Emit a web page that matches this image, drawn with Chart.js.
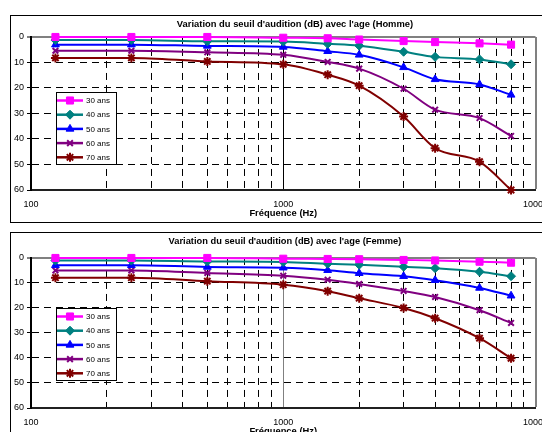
<!DOCTYPE html>
<html>
<head>
<meta charset="utf-8">
<script src="https://cdn.jsdelivr.net/npm/chart.js@4.4.1/dist/chart.umd.min.js"></script>
<style>
html, body { margin: 0; padding: 0; background: #fff; }
body { width: 542px; height: 432px; overflow: hidden; position: relative; }
.frame { position: absolute; left: 10px; width: 620px; border: 1px solid #000; box-sizing: border-box; }
#f1 { top: 15px; height: 208px; }
#f2 { top: 232px; height: 260px; }
.wrap { position: absolute; left: 0; width: 542px; }
#w1 { top: 0; height: 222px; }
#w2 { top: 221px; height: 219px; }
canvas { display: block; }
</style>
</head>
<body>
<div class="frame" id="f1"></div>
<div class="frame" id="f2"></div>
<div class="wrap" id="w1"><canvas id="chartHomme" width="542" height="222"></canvas></div>
<div class="wrap" id="w2"><canvas id="chartFemme" width="542" height="219"></canvas></div>
<script>
// frequencies (Hz) of the measured points
const frequencies = [125, 250, 500, 1000, 1500, 2000, 3000, 4000, 6000, 8000];
const ageLabels = ['30 ans', '40 ans', '50 ans', '60 ans', '70 ans'];

// hearing threshold loss (dB), men
const homme30 = [0, 0, 0, 0.3, 0.5, 1, 1.6, 2, 2.5, 3];
const homme40 = [1.2, 1.2, 1.7, 1.8, 2.7, 3.4, 5.8, 7.8, 8.8, 10.7];
const homme50 = [3, 3, 3.5, 3.9, 5.6, 7, 11.9, 16.6, 18.6, 22.7];
const homme60 = [5.4, 5.4, 6, 7, 9.8, 12.4, 20.3, 28.5, 31.8, 38.8];
const homme70 = [8.2, 8.2, 9.6, 10.7, 14.8, 19.1, 31.2, 43.6, 48.9, 60];

// hearing threshold loss (dB), women
const femme30 = [0, 0, 0, 0.3, 0.4, 0.5, 0.8, 1, 1.5, 1.9];
const femme40 = [1, 1, 1.4, 1.6, 2.3, 2.7, 3.5, 4.1, 5.5, 7.3];
const femme50 = [2.9, 2.9, 3.6, 3.9, 4.9, 6.1, 7.3, 8.9, 12, 15.1];
const femme60 = [5, 5, 6, 7.1, 8.7, 10.4, 13.2, 15.6, 20.9, 26];
const femme70 = [7.9, 7.9, 9.3, 10.7, 13.3, 16.1, 20, 24.1, 32.1, 40.1];

// x grid and labels
const xGridValues = [100, 200, 300, 400, 500, 600, 700, 800, 900,
  1000, 2000, 3000, 4000, 5000, 6000, 7000, 8000, 9000, 10000];
const xTickLabels = [100, 1000, 10000];

const colors = ['#ff00ff', '#008080', '#0000ff', '#800080', '#800000'];
const markers = ['rect', 'rectRot', 'triangle', 'crossRot', 'star'];
const markerRadius = [5, 4.5, 4.5, 4, 4.5];
const markerBorder = [1, 1, 1, 2, 2];

const FONT = "'Liberation Sans', Arial, sans-serif";

const titleShift = {
  id: 'titleShift',
  afterLayout(chart, args, opts) {
    const t = chart.titleBlock;
    if (!t || opts.center == null) return;
    const half = (t.right - t.left) / 2;
    t.left = opts.center - half;
    t.right = opts.center + half;
  }
};

const insideLegend = {
  id: 'insideLegend',
  afterDatasetsDraw(chart, args, opts) {
    const ctx = chart.ctx;
    ctx.save();
    ctx.fillStyle = '#fff';
    ctx.fillRect(opts.x, opts.y, opts.w, opts.h);
    ctx.strokeStyle = '#000';
    ctx.lineWidth = 1;
    ctx.strokeRect(opts.x + 0.5, opts.y + 0.5, opts.w, opts.h);
    ctx.font = '8px ' + FONT;
    ctx.textBaseline = 'middle';
    chart.data.datasets.forEach((ds, i) => {
      const y = opts.y + 8.5 + i * 14.2;
      ctx.strokeStyle = ds.borderColor;
      ctx.lineWidth = 2.5;
      ctx.beginPath();
      ctx.moveTo(opts.x + 1, y);
      ctx.lineTo(opts.x + 27, y);
      ctx.stroke();
      ctx.fillStyle = ds.pointBackgroundColor;
      ctx.strokeStyle = ds.pointBorderColor;
      ctx.lineWidth = ds.pointBorderWidth;
      Chart.helpers.drawPoint(ctx, {
        pointStyle: ds.pointStyle, radius: ds.pointRadius,
        borderWidth: ds.pointBorderWidth, rotation: 0
      }, opts.x + 14, y);
      ctx.fillStyle = '#000';
      ctx.fillText(ds.label, opts.x + 30, y + 0.5);
    });
    ctx.restore();
  }
};

function makeChart(id, title, series, cfg) {
  const datasets = series.map((values, i) => ({
    label: ageLabels[i],
    data: frequencies.map((f, j) => ({ x: f, y: values[j] })),
    borderColor: colors[i],
    backgroundColor: colors[i],
    borderWidth: 2,
    pointStyle: markers[i],
    pointRadius: markerRadius[i],
    pointBackgroundColor: colors[i],
    pointBorderColor: colors[i],
    pointBorderWidth: markerBorder[i],
    cubicInterpolationMode: 'monotone',
    clip: false
  }));

  return new Chart(document.getElementById(id), {
    type: 'line',
    data: { datasets },
    plugins: [titleShift, insideLegend],
    options: {
      responsive: false,
      animation: false,
      devicePixelRatio: 1,
      layout: { padding: { left: 0, right: 3, top: 0, bottom: 0 } },
      plugins: {
        legend: { display: false },
        tooltip: { enabled: false },
        title: {
          display: true,
          text: title,
          color: '#000',
          font: { family: FONT, size: cfg.titleSize, weight: 'bold', lineHeight: 1.2 },
          padding: { top: cfg.titleTop, bottom: cfg.titleBottom }
        },
        titleShift: { center: cfg.titleCenter },
        insideLegend: { x: 56, y: cfg.legendY, w: 60, h: 72 }
      },
      scales: {
        x: {
          type: 'logarithmic',
          min: 100,
          max: 10000,
          afterBuildTicks: (s) => { s.ticks = xGridValues.map(v => ({ value: v })); },
          afterFit: (s) => { s.height = 32; s.paddingLeft = 0; s.paddingRight = 0; },
          ticks: {
            autoSkip: false,
            maxRotation: 0,
            minRotation: 0,
            padding: 9,
            color: '#000',
            font: { family: FONT, size: 9 },
            callback: (v) => xTickLabels.includes(v) ? String(v) : ''
          },
          grid: {
            drawTicks: false,
            color: (c) => {
              const v = c.tick ? c.tick.value : 0;
              if (v === 100) return 'rgba(0,0,0,0)';
              if (v === 10000) return '#808080';
              if (v === 1000) return cfg.majorColor;
              return '#000';
            },
            lineWidth: (c) => (c.tick && c.tick.value === 10000) ? 2 : 1
          },
          border: {
            color: '#202020',
            width: 2,
            dash: (c) => {
              const v = c.tick ? c.tick.value : null;
              if (v === null || v === 100 || v === 1000 || v === 10000) return [];
              return [7, 5];
            }
          },
          title: {
            display: true,
            text: 'Fréquence (Hz)',
            color: '#000',
            font: { family: FONT, size: 9.4, weight: 'bold', lineHeight: 1.2 },
            padding: { top: 0, bottom: 3 }
          }
        },
        y: {
          reverse: true,
          min: 0,
          max: 60,
          afterFit: (s) => { s.width = 31; s.paddingTop = 0; s.paddingBottom = 0; },
          ticks: {
            stepSize: 10,
            padding: 3,
            color: '#000',
            font: { family: FONT, size: 9 }
          },
          grid: {
            tickLength: 4,
            tickColor: '#000',
            tickWidth: 1,
            tickBorderDash: [],
            color: (c) => {
              const v = c.tick ? c.tick.value : -1;
              if (v === 0) return '#808080';
              if (v === 60) return 'rgba(0,0,0,0)';
              return '#000';
            },
            lineWidth: (c) => (c.tick && c.tick.value === 0) ? 2 : 1
          },
          border: {
            color: '#000',
            width: 2,
            dash: (c) => {
              const v = c.tick ? c.tick.value : null;
              if (v === null || v === 0 || v === 60) return [];
              return [7, 5];
            }
          }
        }
      }
    }
  });
}

makeChart('chartHomme', "Variation du seuil d'audition (dB) avec l'age (Homme)",
  [homme30, homme40, homme50, homme60, homme70],
  { titleSize: 9.4, titleTop: 18.4, titleBottom: 7.3, titleCenter: 295, legendY: 92, majorColor: '#000' });

makeChart('chartFemme', "Variation du seuil d'audition (dB) avec l'age (Femme)",
  [femme30, femme40, femme50, femme60, femme70],
  { titleSize: 9.3, titleTop: 14.4, titleBottom: 11.4, titleCenter: 285, legendY: 87, majorColor: '#808080' });
</script>
</body>
</html>
